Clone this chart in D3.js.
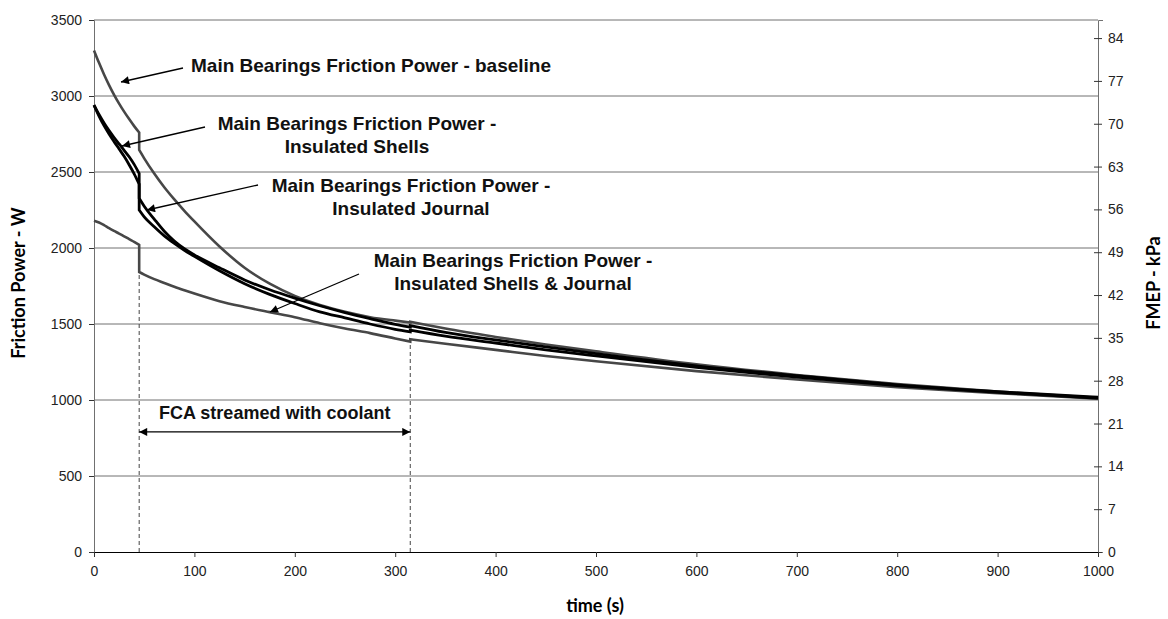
<!DOCTYPE html>
<html>
<head>
<meta charset="utf-8">
<script src="https://cdn.jsdelivr.net/npm/d3@7/dist/d3.min.js"></script>
<style>
  html, body { margin: 0; padding: 0; background: #fff; }
  svg { display: block; }
</style>
</head>
<body>
<svg id="chart" width="1168" height="619"></svg>
<script>
// ---------------- DATA ----------------
const time = [0,5,10,15,20,25,30,35,40,45,45,50,60,70,80,90,100,125,150,175,200,225,250,275,300,315,315,350,400,450,500,600,700,800,900,1000];

const baseline = [3300,3218,3142,3072,3008,2950,2897,2848,2802,2760,
                  2645,2590,2490,2400,2320,2245,2175,2010,1870,1765,1685,1625,1580,1545,1522,1510,
                  1515,1470,1415,1365,1320,1235,1165,1105,1055,1015];

const insulatedShells = [2940,2878,2822,2772,2727,2685,2643,2600,2550,2490,
                  2250,2205,2140,2080,2030,1985,1945,1850,1765,1695,1635,1580,1540,1500,1465,1448,
                  1460,1420,1375,1330,1290,1215,1150,1095,1050,1012];

const insulatedJournal = [2940,2868,2805,2750,2700,2652,2603,2548,2488,2420,
                  2327,2275,2190,2110,2045,1995,1955,1870,1790,1725,1670,1620,1575,1535,1498,1480,
                  1490,1445,1395,1350,1305,1225,1160,1100,1055,1018];

const shellsJournal = [2180,2168,2150,2130,2112,2095,2077,2058,2040,2020,
                  1842,1825,1795,1770,1745,1722,1700,1650,1612,1578,1545,1505,1470,1440,1405,1384,
                  1400,1370,1330,1290,1255,1190,1135,1085,1045,1008];

const xTicks = [0,100,200,300,400,500,600,700,800,900,1000];
const yTicks = [0,500,1000,1500,2000,2500,3000,3500];
const y2Ticks = [0,7,14,21,28,35,42,49,56,63,70,77,84];
const coolantStart = 45, coolantEnd = 315;

const seriesNames = [
  ["Main Bearings Friction Power - baseline"],
  ["Main Bearings Friction Power -", "Insulated Shells"],
  ["Main Bearings Friction Power -", "Insulated Journal"],
  ["Main Bearings Friction Power -", "Insulated Shells & Journal"]
];

// ---------------- LAYOUT ----------------
const svg = d3.select("#chart");
const L = 94, R = 1098, T = 20, B = 552;

const x = d3.scaleLinear().domain([0, 1000]).range([L, R]);
const y = d3.scaleLinear().domain([0, 3500]).range([B, T]);
const kPaPerW = 84 / 3381;
const y2 = d3.scaleLinear().domain([0, 3500 * kPaPerW]).range([B, T]);

const tickFont = "'Liberation Sans', Arial, sans-serif";
const titleFont = "Lato, 'Open Sans', sans-serif";

// gridlines
svg.append("g").selectAll("line").data(yTicks.filter(d => d > 0)).join("line")
  .attr("x1", L).attr("x2", R)
  .attr("y1", d => y(d)).attr("y2", d => y(d))
  .attr("stroke", "#707070").attr("stroke-width", 1);

// left axis
const gL = svg.append("g").attr("transform", `translate(${L},0)`)
  .call(d3.axisLeft(y).tickValues(yTicks).tickSize(5).tickPadding(7).tickFormat(d3.format("d")));
gL.select(".domain").attr("stroke", "#707070");
gL.selectAll(".tick line").attr("stroke", "#333");
gL.selectAll("text").attr("font-family", tickFont).attr("font-size", 14).attr("fill", "#222");

// right axis
const gR = svg.append("g").attr("transform", `translate(${R},0)`)
  .call(d3.axisRight(y2).tickValues(y2Ticks).tickSize(5).tickPadding(5).tickFormat(d3.format("d")));
gR.select(".domain").attr("stroke", "#707070");
gR.selectAll(".tick line").attr("x1", -4).attr("x2", 4).attr("stroke", "#333");
gR.selectAll("text").attr("font-family", tickFont).attr("font-size", 14).attr("fill", "#222");

// bottom axis
const gB = svg.append("g").attr("transform", `translate(0,${B})`)
  .call(d3.axisBottom(x).tickValues(xTicks).tickSize(5).tickPadding(9).tickFormat(d3.format("d")));
gB.select(".domain").attr("stroke", "#000");
gB.selectAll(".tick line").attr("stroke", "#333");
gB.selectAll("text").attr("font-family", tickFont).attr("font-size", 14).attr("fill", "#222");

// axis titles
svg.append("text").attr("x", 595).attr("y", 612).attr("text-anchor", "middle")
  .attr("font-family", titleFont).attr("font-weight", "bold").attr("font-size", 18)
  .text("time (s)");
svg.append("text").attr("transform", `translate(25,283) rotate(-90)`).attr("text-anchor", "middle")
  .attr("font-family", titleFont).attr("font-weight", "bold").attr("font-size", 18)
  .text("Friction Power - W");
svg.append("text").attr("transform", `translate(1160,283) rotate(-90)`).attr("text-anchor", "middle")
  .attr("font-family", titleFont).attr("font-weight", "bold").attr("font-size", 18)
  .text("FMEP - kPa");

// dashed coolant markers
function minAt(i) { return Math.min(baseline[i], insulatedShells[i], insulatedJournal[i], shellsJournal[i]); }
const iStart = time.indexOf(coolantStart) + 1;
const iEnd = time.indexOf(coolantEnd);
[[coolantStart, minAt(iStart)], [coolantEnd, minAt(iEnd)]].forEach(([t, v]) => {
  svg.append("line").attr("x1", x(t)).attr("x2", x(t)).attr("y1", B).attr("y2", y(v) + 3)
    .attr("stroke", "#444").attr("stroke-width", 1).attr("stroke-dasharray", "4,3");
});

// lines: smooth within segments, straight vertical steps at the coolant switch times
const segLine = d3.line().x(d => x(d[0])).y(d => y(d[1])).curve(d3.curveMonotoneX);
function seriesPath(vals) {
  const segs = [];
  let cur = [];
  time.forEach((t, i) => {
    if (cur.length && t === cur[cur.length - 1][0]) { segs.push(cur); cur = []; }
    cur.push([t, vals[i]]);
  });
  segs.push(cur);
  return segs.map((s, k) => {
    const p = segLine(s);
    return k === 0 ? p : p.replace(/^M/, "L");
  }).join("");
}
const series = [
  {v: baseline, c: "#474747", w: 2.6},
  {v: shellsJournal, c: "#474747", w: 2.6},
  {v: insulatedJournal, c: "#000", w: 2.8},
  {v: insulatedShells, c: "#000", w: 2.8}
];
svg.append("g").selectAll("path").data(series).join("path")
  .attr("d", d => seriesPath(d.v)).attr("fill", "none")
  .attr("stroke", d => d.c).attr("stroke-width", d => d.w)
  .attr("stroke-linejoin", "miter");

// arrow marker
const defs = svg.append("defs");
defs.append("marker").attr("id", "ah").attr("viewBox", "0 0 10 10")
  .attr("refX", 10).attr("refY", 5).attr("markerWidth", 13).attr("markerHeight", 8)
  .attr("markerUnits", "userSpaceOnUse").attr("orient", "auto-start-reverse")
  .append("path").attr("d", "M0,0 L10,5 L0,10 Z").attr("fill", "#000");

function arrow(x1, y1, x2, y2, both) {
  const l = svg.append("line").attr("x1", x1).attr("y1", y1).attr("x2", x2).attr("y2", y2)
    .attr("stroke", "#000").attr("stroke-width", 1.3).attr("marker-end", "url(#ah)");
  if (both) l.attr("marker-start", "url(#ah)");
}

const annFont = "'Liberation Sans', Arial, sans-serif";
function label(lines, cx, y0, anchor) {
  const t = svg.append("text").attr("font-family", annFont).attr("font-weight", "bold")
    .attr("font-size", 19).attr("fill", "#111").attr("text-anchor", anchor || "middle");
  lines.forEach((s, i) => {
    t.append("tspan").attr("x", cx).attr("y", y0 + i * 23.3).text(s);
  });
}

// annotations
label(seriesNames[0], 191, 72, "start");
arrow(183, 68, 121, 82);

label(seriesNames[1], 357, 130);
arrow(205, 127, 122, 146);

label(seriesNames[2], 411, 192);
arrow(258, 185, 147, 210);

label(seriesNames[3], 513, 267);
arrow(359, 274, 270, 312);

// coolant span
arrow(x(coolantStart), y(790), x(coolantEnd), y(790), true);
svg.append("text").attr("x", x((coolantStart + coolantEnd) / 2)).attr("y", y(915) + 6)
  .attr("text-anchor", "middle").attr("font-family", annFont).attr("font-weight", "bold")
  .attr("font-size", 18).attr("fill", "#111").text("FCA streamed with coolant");
</script>
</body>
</html>
